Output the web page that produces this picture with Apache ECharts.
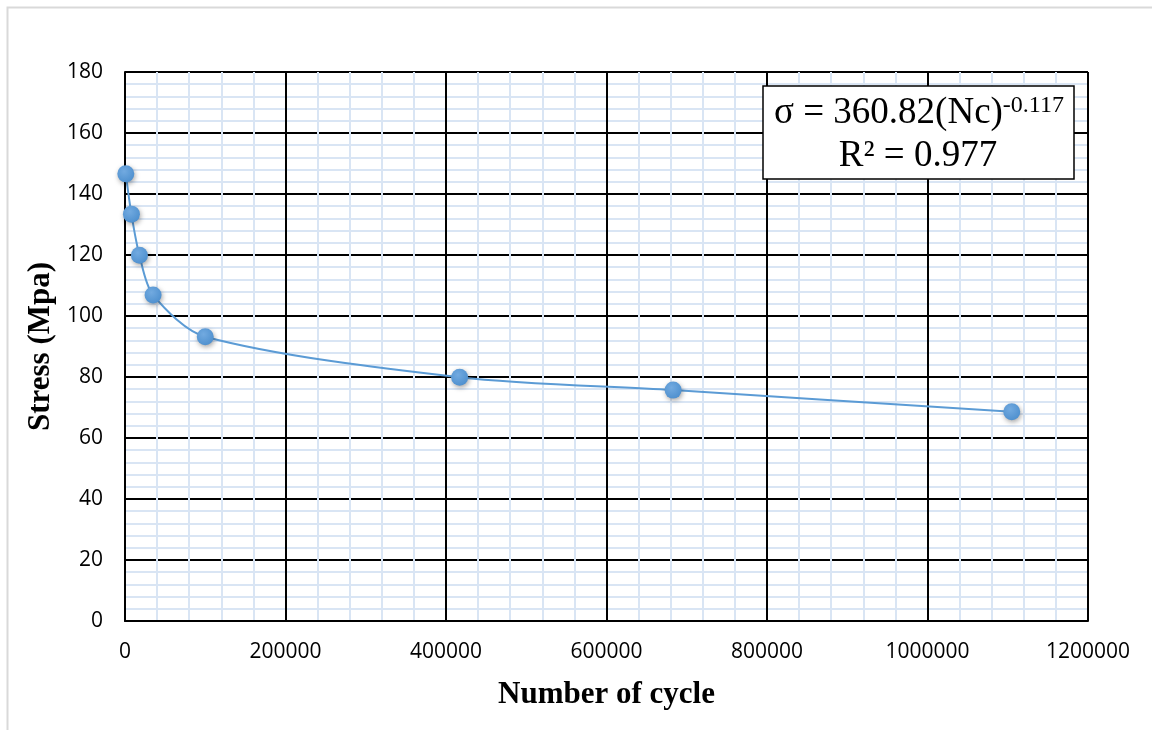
<!DOCTYPE html>
<html>
<head>
<meta charset="utf-8">
<title>Stress vs number of cycle</title>
<script src="https://cdn.jsdelivr.net/npm/echarts@6/dist/echarts.min.js"></script>
<style>
  html, body { margin: 0; padding: 0; background: #fff; }
  #chart { width: 1152px; height: 730px; }
</style>
</head>
<body>
<div id="chart"></div>
<script>
// data
var cycles = [1000, 8000, 18000, 35000, 100000, 417000, 683000, 1105000];
var stress = [146.6, 133.4, 119.9, 106.9, 93.2, 79.9, 75.7, 68.6];
var xTitle = 'Number of cycle';
var yTitle = 'Stress (Mpa)';
var fitText = ['σ = 360.82(Nc)', '-0.117', 'R² = 0.977'];

var points = cycles.map(function(c, i) { return [c, stress[i]] });

var chart = echarts.init(document.getElementById('chart'));

var labelFont = { color: '#000', fontFamily: 'Open Sans', fontSize: 21 };
var titleFont = { color: '#000', fontFamily: 'Liberation Serif', fontWeight: 'bold', fontSize: 31 };

chart.setOption({
  animation: false,
  backgroundColor: '#fff',
  grid: { left: 125, top: 72, width: 963, height: 549 },
  xAxis: {
    type: 'value',
    min: 0,
    max: 1200000,
    interval: 200000,
    name: xTitle,
    nameLocation: 'middle',
    nameGap: 58,
    nameTextStyle: titleFont,
    axisLine: { show: true, lineStyle: { color: '#000', width: 2 } },
    axisTick: { show: false },
    axisLabel: Object.assign({ margin: 21, formatter: function(v) { return String(v) } }, labelFont),
    splitLine: { show: true, lineStyle: { color: '#000', width: 2 } },
    minorTick: { show: false, splitNumber: 5 },
    minorSplitLine: { show: true, lineStyle: { color: '#d9e5f4', width: 2 } }
  },
  yAxis: {
    type: 'value',
    min: 0,
    max: 180,
    interval: 20,
    name: yTitle,
    nameLocation: 'middle',
    nameGap: 68,
    nameTextStyle: titleFont,
    axisLine: { show: true, lineStyle: { color: '#000', width: 2 } },
    axisTick: { show: false },
    axisLabel: Object.assign({ margin: 22 }, labelFont),
    splitLine: { show: true, lineStyle: { color: '#000', width: 2 } },
    minorTick: { show: false, splitNumber: 5 },
    minorSplitLine: { show: true, lineStyle: { color: '#d9e5f4', width: 2 } }
  },
  series: [{
    type: 'line',
    data: points,
    smooth: 0.3,
    symbol: 'circle',
    symbolSize: 17,
    lineStyle: { color: '#5b9bd5', width: 2 },
    itemStyle: {
      color: {
        type: 'radial', x: 0.4, y: 0.35, r: 0.7,
        colorStops: [{ offset: 0, color: '#72aae0' }, { offset: 1, color: '#4d8fce' }]
      },
      borderWidth: 0,
      shadowColor: 'rgba(0,0,0,0.35)',
      shadowBlur: 5,
      shadowOffsetX: 1,
      shadowOffsetY: 2
    },
    z: 5
  }],
  graphic: [
    // outer chart frame
    {
      type: 'rect',
      shape: { x: 7.5, y: 7.5, width: 1160, height: 740 },
      style: { fill: 'none', stroke: '#d9d9d9', lineWidth: 2 },
      silent: true,
      z: 0
    },
    // fit equation box
    {
      type: 'rect',
      shape: { x: 763, y: 86, width: 311, height: 93 },
      style: { fill: '#fff', stroke: '#000', lineWidth: 1.5 },
      z: 10
    },
    {
      type: 'text',
      x: 919,
      y: 113,
      style: {
        text: '{m|' + fitText[0] + '}{s|' + fitText[1] + '}',
        align: 'center',
        verticalAlign: 'middle',
        rich: {
          m: { fontFamily: 'Liberation Serif', fontSize: 37, fill: '#000' },
          s: { fontFamily: 'Liberation Serif', fontSize: 24, fill: '#000', padding: [0, 0, 14, 0] }
        }
      },
      z: 11
    },
    {
      type: 'text',
      x: 918,
      y: 156,
      style: {
        text: fitText[2],
        align: 'center',
        verticalAlign: 'middle',
        fontFamily: 'Liberation Serif',
        fontSize: 37,
        fill: '#000'
      },
      z: 11
    }
  ]
});
</script>
</body>
</html>
